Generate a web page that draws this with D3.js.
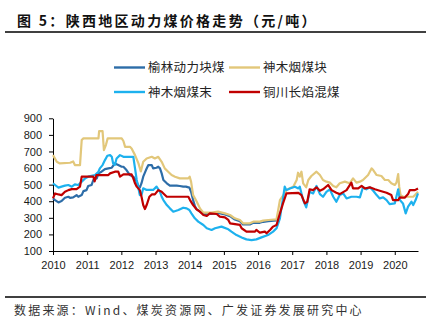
<!DOCTYPE html>
<html>
<head>
<meta charset="utf-8">
<script src="https://cdn.jsdelivr.net/npm/d3@7"></script>
<style>
  body { margin: 0; background: #fff; }
  svg { display: block; }
</style>
</head>
<body>
<svg id="chart"></svg>
<script>
// 陕西地区动力煤价格（元/吨），时间用小数年份表示
let seriesNames = ['榆林动力块煤', '神木烟煤块', '神木烟煤末', '铜川长焰混煤']
let seriesColors = ['#2d6da8', '#e2c77a', '#1db1ee', '#c00000']

let ylT = [2010.00, 2010.06, 2010.16, 2010.25, 2010.35, 2010.45, 2010.50, 2010.59, 2010.69, 2010.74, 2010.84, 2010.89, 2010.98, 2011.03, 2011.13, 2011.18, 2011.28, 2011.33, 2011.42, 2011.52, 2011.62, 2011.72, 2011.81, 2011.91, 2012.01, 2012.06, 2012.15, 2012.25, 2012.35, 2012.45, 2012.50, 2012.54, 2012.59, 2012.64, 2012.72, 2012.79, 2012.89, 2012.93, 2013.03, 2013.08, 2013.13, 2013.18, 2013.23, 2013.33, 2013.42, 2013.62, 2013.71, 2013.81, 2013.89, 2013.99, 2014.04, 2014.10, 2014.15, 2014.20, 2014.30, 2014.40, 2014.64, 2014.83, 2015.03, 2015.18, 2015.32, 2015.47, 2015.56, 2015.76, 2015.86, 2016.05, 2016.15, 2016.30, 2016.54]
let ylV = [417, 407, 393, 401, 421, 427, 420, 423, 437, 427, 437, 461, 467, 492, 498, 528, 538, 568, 578, 594, 598, 602, 628, 618, 608, 608, 588, 558, 548, 518, 488, 482, 509, 548, 588, 618, 618, 598, 602, 608, 598, 568, 528, 508, 494, 494, 492, 488, 488, 482, 457, 407, 372, 352, 337, 324, 324, 330, 320, 310, 290, 280, 260, 260, 270, 270, 276, 280, 284]

let smkT = [2010.00, 2010.11, 2010.20, 2010.50, 2010.59, 2010.64, 2010.79, 2010.84, 2010.89, 2011.33, 2011.35, 2011.45, 2011.49, 2011.55, 2011.60, 2012.01, 2012.06, 2012.11, 2012.25, 2012.30, 2012.40, 2012.50, 2012.54, 2012.57, 2012.64, 2012.74, 2012.89, 2012.98, 2013.08, 2013.18, 2013.27, 2013.37, 2013.47, 2013.57, 2013.71, 2013.96, 2014.00, 2014.04, 2014.10, 2014.20, 2014.30, 2014.40, 2014.64, 2014.83, 2015.03, 2015.18, 2015.32, 2015.47, 2015.56, 2015.76, 2015.86, 2016.05, 2016.15, 2016.30, 2016.54, 2016.59, 2016.64, 2016.74, 2016.83, 2016.93, 2017.03, 2017.13, 2017.17, 2017.22, 2017.27, 2017.32, 2017.41, 2017.47, 2017.56, 2017.71, 2017.81, 2017.90, 2018.00, 2018.10, 2018.20, 2018.29, 2018.39, 2018.54, 2018.68, 2018.78, 2018.88, 2018.98, 2019.07, 2019.22, 2019.32, 2019.37, 2019.47, 2019.61, 2019.71, 2019.81, 2019.90, 2020.00, 2020.05, 2020.10, 2020.13, 2020.17, 2020.24, 2020.54, 2020.59, 2020.68]
let smkV = [678, 638, 628, 632, 640, 618, 618, 769, 779, 779, 823, 823, 708, 740, 779, 779, 763, 728, 728, 718, 678, 628, 600, 580, 638, 658, 668, 658, 668, 638, 598, 578, 558, 548, 538, 538, 548, 518, 437, 400, 357, 331, 331, 337, 327, 317, 297, 287, 267, 267, 277, 277, 283, 287, 291, 347, 407, 437, 467, 478, 488, 528, 572, 548, 578, 508, 484, 528, 552, 578, 558, 528, 518, 512, 492, 484, 508, 518, 508, 538, 512, 518, 528, 558, 598, 588, 558, 552, 528, 528, 508, 498, 512, 564, 488, 437, 427, 427, 437, 457]

let smmT = [2010.00, 2010.06, 2010.16, 2010.25, 2010.35, 2010.45, 2010.55, 2010.64, 2010.74, 2010.84, 2010.94, 2011.03, 2011.23, 2011.33, 2011.37, 2011.45, 2011.52, 2011.59, 2011.67, 2011.72, 2011.76, 2011.81, 2011.86, 2011.96, 2012.06, 2012.35, 2012.40, 2012.45, 2012.50, 2012.54, 2012.59, 2012.64, 2012.74, 2012.93, 2013.03, 2013.13, 2013.18, 2013.23, 2013.33, 2013.42, 2013.52, 2013.67, 2013.81, 2013.91, 2013.99, 2014.05, 2014.15, 2014.25, 2014.40, 2014.50, 2014.64, 2014.74, 2014.93, 2015.13, 2015.22, 2015.37, 2015.52, 2015.66, 2015.81, 2015.95, 2016.10, 2016.29, 2016.44, 2016.54, 2016.64, 2016.69, 2016.73, 2016.78, 2016.83, 2016.93, 2017.08, 2017.18, 2017.22, 2017.27, 2017.32, 2017.41, 2017.51, 2017.61, 2017.71, 2017.81, 2017.90, 2018.00, 2018.10, 2018.20, 2018.29, 2018.39, 2018.49, 2018.59, 2018.73, 2018.88, 2018.98, 2019.07, 2019.17, 2019.27, 2019.37, 2019.47, 2019.56, 2019.66, 2019.76, 2019.85, 2020.00, 2020.10, 2020.15, 2020.24, 2020.32, 2020.39, 2020.49, 2020.54, 2020.61, 2020.68]
let smmV = [508, 498, 482, 488, 494, 498, 488, 502, 498, 518, 538, 548, 558, 578, 598, 618, 648, 674, 678, 668, 628, 618, 658, 678, 668, 668, 598, 528, 478, 437, 437, 478, 468, 468, 488, 457, 427, 407, 377, 357, 337, 347, 361, 357, 347, 327, 297, 277, 257, 237, 227, 237, 247, 231, 217, 196, 182, 170, 166, 170, 182, 196, 217, 237, 297, 367, 417, 488, 467, 477, 487, 477, 488, 447, 407, 363, 457, 447, 492, 443, 427, 457, 472, 427, 397, 437, 447, 417, 427, 427, 423, 484, 472, 484, 463, 437, 417, 423, 407, 383, 387, 472, 407, 387, 327, 367, 397, 377, 407, 447]

let tcT = [2010.00, 2010.06, 2010.16, 2010.25, 2010.35, 2010.45, 2010.55, 2010.69, 2010.79, 2010.84, 2011.18, 2011.22, 2011.27, 2011.62, 2011.67, 2011.81, 2011.91, 2011.96, 2012.06, 2012.30, 2012.35, 2012.40, 2012.45, 2012.54, 2012.59, 2012.64, 2012.69, 2012.74, 2012.82, 2012.89, 2012.98, 2013.08, 2013.18, 2013.23, 2013.33, 2013.96, 2014.01, 2014.10, 2014.20, 2014.30, 2014.40, 2014.50, 2014.59, 2014.79, 2014.88, 2015.03, 2015.13, 2015.18, 2015.47, 2015.52, 2015.66, 2015.91, 2015.95, 2016.05, 2016.20, 2016.25, 2016.35, 2016.44, 2016.54, 2016.64, 2016.73, 2016.83, 2017.18, 2017.27, 2017.37, 2017.44, 2017.51, 2017.61, 2017.71, 2017.81, 2017.90, 2018.05, 2018.15, 2018.29, 2018.39, 2018.59, 2018.73, 2018.78, 2018.93, 2019.03, 2019.12, 2019.27, 2019.42, 2019.56, 2019.76, 2019.90, 2019.95, 2020.10, 2020.15, 2020.29, 2020.39, 2020.44, 2020.59, 2020.68]
let tcV = [417, 447, 441, 437, 457, 467, 473, 473, 488, 548, 548, 520, 558, 558, 568, 578, 578, 548, 562, 562, 538, 508, 488, 467, 427, 377, 353, 377, 427, 441, 441, 467, 457, 447, 427, 427, 407, 377, 351, 337, 317, 311, 327, 323, 307, 303, 287, 267, 257, 237, 217, 217, 227, 211, 217, 207, 227, 247, 257, 327, 387, 447, 451, 437, 387, 397, 472, 467, 484, 463, 472, 498, 467, 451, 443, 467, 512, 477, 477, 492, 477, 484, 472, 463, 451, 437, 407, 407, 423, 421, 443, 467, 467, 477]

let yTicks = [100, 200, 300, 400, 500, 600, 700, 800, 900]
let xTicks = [2010, 2011, 2012, 2013, 2014, 2015, 2016, 2017, 2018, 2019, 2020]

let width = 436
let height = 328
let plotLeft = 53
let plotRight = 418
let plotTop = 118.3
let plotBottom = 251

let svg = d3.select('#chart')
  .attr('width', width)
  .attr('height', height)
  .style('font-family', '"Liberation Sans", Arial, sans-serif')

svg.append('rect').attr('width', width).attr('height', height).attr('fill', '#fff')

// 标题与上下分隔线
svg.append('text')
  .attr('x', 17)
  .attr('y', 25.5)
  .attr('fill', '#111')
  .style('font-family', '"Noto Sans CJK SC", sans-serif')
  .style('font-weight', 'bold')
  .style('font-size', '14px')
  .style('letter-spacing', '2.3px')
  .text('图 5：陕西地区动力煤价格走势（元/吨）')

svg.append('line').attr('x1', 5).attr('x2', 426).attr('y1', 32).attr('y2', 32)
  .attr('stroke', '#000').attr('stroke-width', 1.3)
svg.append('line').attr('x1', 5).attr('x2', 426).attr('y1', 297).attr('y2', 297)
  .attr('stroke', '#000').attr('stroke-width', 1.3)

svg.append('text')
  .attr('x', 14)
  .attr('y', 314.5)
  .attr('fill', '#333')
  .style('font-family', '"Noto Sans CJK SC", sans-serif')
  .style('font-size', '12px')
  .style('letter-spacing', '2.2px')
  .text('数据来源：Wind、煤炭资源网、广发证券发展研究中心')

// 坐标比例尺
let xScale = d3.scaleLinear().domain([2010, 2020.68]).range([plotLeft, plotRight])
let yScale = d3.scaleLinear().domain([100, 900]).range([plotBottom, plotTop])

let xAxis = d3.axisBottom(xScale)
  .tickValues(xTicks)
  .tickFormat(d3.format('d'))
  .tickSizeInner(4)
  .tickSizeOuter(0)
  .tickPadding(6)

let yAxis = d3.axisLeft(yScale)
  .tickValues(yTicks)
  .tickSizeInner(4)
  .tickSizeOuter(0)
  .tickPadding(7)

let gx = svg.append('g')
  .attr('id', 'x-axis')
  .attr('transform', `translate(0, ${plotBottom})`)
  .call(xAxis)

let gy = svg.append('g')
  .attr('id', 'y-axis')
  .attr('transform', `translate(${plotLeft}, 0)`)
  .call(yAxis)

;[gx, gy].forEach(g => {
  g.selectAll('path, line').attr('stroke', '#000').attr('stroke-width', 1)
  g.selectAll('text').attr('fill', '#1a1a1a').style('font-size', '11px')
    .style('font-family', '"Liberation Sans", Arial, sans-serif')
})

// 折线
let line = d3.line()
  .x(d => xScale(d[0]))
  .y(d => yScale(d[1]))

let series = [
  d3.zip(ylT, ylV),
  d3.zip(smkT, smkV),
  d3.zip(smmT, smmV),
  d3.zip(tcT, tcV)
]

svg.append('g')
  .selectAll('path')
  .data(series)
  .enter()
  .append('path')
  .attr('d', line)
  .attr('fill', 'none')
  .attr('stroke', (d, i) => seriesColors[i])
  .attr('stroke-width', 2.2)
  .attr('stroke-linejoin', 'round')

// 图例
let legendPos = [[114, 67.5], [229, 67.5], [114, 92], [229, 92]]

let legend = svg.append('g')
  .selectAll('g')
  .data(seriesNames)
  .enter()
  .append('g')
  .attr('transform', (d, i) => `translate(${legendPos[i][0]}, ${legendPos[i][1]})`)

legend.append('line')
  .attr('x1', 0).attr('x2', 31)
  .attr('stroke', (d, i) => seriesColors[i])
  .attr('stroke-width', 2.4)

legend.append('text')
  .attr('x', 34)
  .attr('y', 4.5)
  .attr('fill', '#222')
  .style('font-family', '"Noto Sans CJK SC", sans-serif')
  .style('font-size', '12.5px')
  .style('letter-spacing', '0.3px')
  .text(d => d)
</script>
</body>
</html>
